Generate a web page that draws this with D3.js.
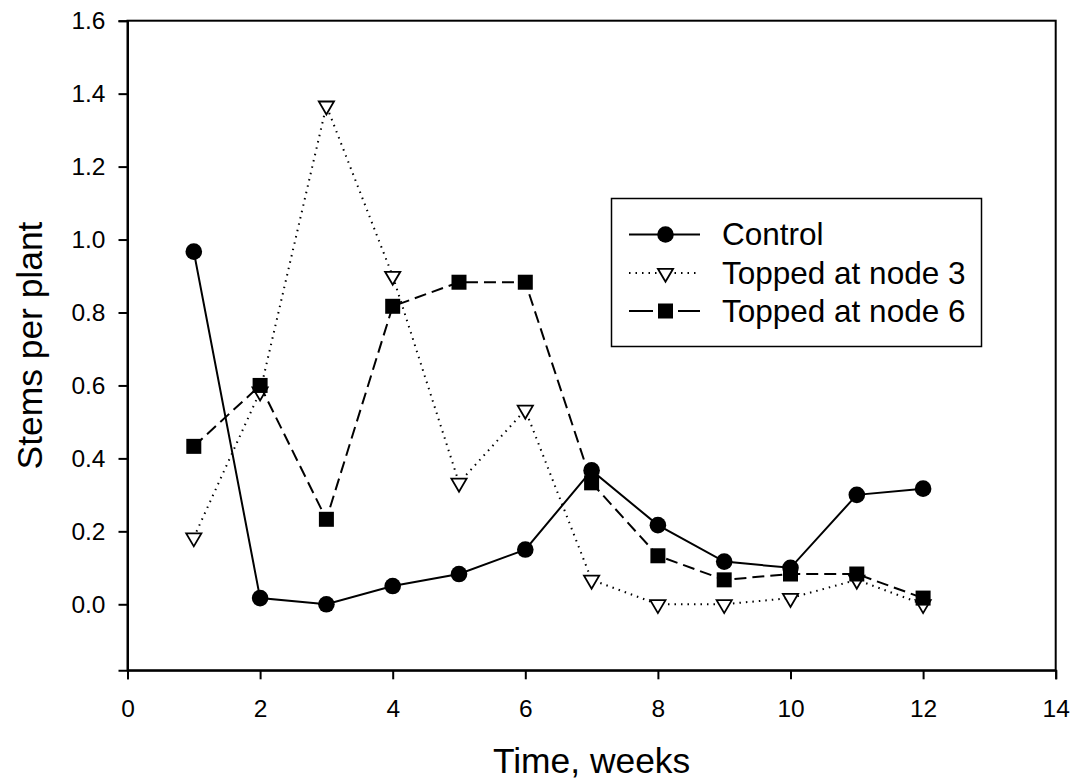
<!DOCTYPE html>
<html>
<head>
<meta charset="utf-8">
<script src="https://cdn.jsdelivr.net/npm/d3@7"></script>
<style>
  body { margin: 0; background: #fff; }
  svg { display: block; font-family: "Liberation Sans", Arial, sans-serif; }
</style>
</head>
<body>
<svg id="chart" width="1074" height="782"></svg>
<script>
// data
const weeks = [1, 2, 3, 4, 5, 6, 7, 8, 9, 10, 11, 12];
const control = [0.967, 0.017, 0.0, 0.05, 0.083, 0.15, 0.367, 0.217, 0.117, 0.1, 0.3, 0.317];
const node3 = [0.183, 0.583, 1.367, 0.9, 0.333, 0.533, 0.067, 0.0, 0.0, 0.017, 0.067, 0.0];
const node6 = [0.433, 0.6, 0.233, 0.817, 0.883, 0.883, 0.333, 0.133, 0.067, 0.083, 0.083, 0.017];
const seriesNames = ["Control", "Topped at node 3", "Topped at node 6"];
const xTicks = [0, 2, 4, 6, 8, 10, 12, 14];
const yTicks = [0.0, 0.2, 0.4, 0.6, 0.8, 1.0, 1.2, 1.4, 1.6];

const svg = d3.select("#chart");
const plotLeft = 127.5, plotRight = 1055.7, plotTop = 20.7, plotBottom = 670.3;

const x = d3.scaleLinear().domain([0, 14]).range([plotLeft, plotRight]);
const y = d3.scaleLinear().domain([-0.181, 1.6]).range([plotBottom, plotTop]);

// frame
svg.append("rect")
  .attr("x", plotLeft).attr("y", plotTop)
  .attr("width", plotRight - plotLeft).attr("height", plotBottom - plotTop)
  .attr("fill", "none").attr("stroke", "#000").attr("stroke-width", 2);

// axes
const xAxis = d3.axisBottom(x).tickValues(xTicks).tickSize(9).tickPadding(20).tickFormat(d3.format("d"));
const yAxis = d3.axisLeft(y).tickValues(yTicks).tickSize(9).tickPadding(13).tickFormat(d3.format(".1f"));

const xg = svg.append("g").attr("transform", `translate(0,${plotBottom})`).call(xAxis);
const yg = svg.append("g").attr("transform", `translate(${plotLeft},0)`).call(yAxis);

[xg, yg].forEach(g => {
  g.select(".domain").attr("stroke-width", 2);
  g.selectAll(".tick line").attr("stroke-width", 2);
  g.selectAll("text")
    .attr("font-size", 24.5)
    .attr("font-family", "Liberation Sans, Arial, sans-serif")
    .attr("fill", "#000");
});

// axis titles
svg.append("text")
  .attr("x", (plotLeft + plotRight) / 2).attr("y", 773)
  .attr("text-anchor", "middle")
  .attr("font-size", 35.4)
  .text("Time, weeks");

svg.append("text")
  .attr("transform", `translate(42,${(plotTop + plotBottom) / 2}) rotate(-90)`)
  .attr("text-anchor", "middle")
  .attr("font-size", 35.4)
  .text("Stems per plant");

const line = d3.line().x(d => x(d[0])).y(d => y(d[1]));
const zip = vals => weeks.map((w, i) => [w, vals[i]]);

const styles = [
  { dash: null, marker: "circle" },
  { dash: "1.5,5", marker: "triangle" },
  { dash: "12,6", marker: "square" }
];

const drawMarker = (g, kind, cx, cy) => {
  if (kind === "circle") {
    g.append("circle").attr("cx", cx).attr("cy", cy).attr("r", 8.3).attr("fill", "#000");
  } else if (kind === "square") {
    g.append("rect").attr("x", cx - 7.5).attr("y", cy - 7.5)
      .attr("width", 15).attr("height", 15).attr("fill", "#000");
  } else {
    g.append("path")
      .attr("d", `M${cx - 7.6},${cy - 4.2}L${cx + 7.6},${cy - 4.2}L${cx},${cy + 8.8}Z`)
      .attr("fill", "#fff").attr("stroke", "#000").attr("stroke-width", 1.8)
      .attr("stroke-linejoin", "miter");
  }
};

[control, node3, node6].forEach((vals, i) => {
  const g = svg.append("g");
  const pts = zip(vals);
  g.append("path")
    .attr("d", line(pts))
    .attr("fill", "none")
    .attr("stroke", "#000")
    .attr("stroke-width", 2)
    .attr("stroke-dasharray", styles[i].dash);
  pts.forEach(p => drawMarker(g, styles[i].marker, x(p[0]), y(p[1])));
});

// legend
const legend = svg.append("g");
legend.append("rect")
  .attr("x", 611.5).attr("y", 198.5)
  .attr("width", 370).attr("height", 148)
  .attr("fill", "#fff").attr("stroke", "#000").attr("stroke-width", 1.5);

const rowY = [234.5, 273, 311];
seriesNames.forEach((name, i) => {
  const ly = rowY[i];
  legend.append("line")
    .attr("x1", 629).attr("x2", 700).attr("y1", ly).attr("y2", ly)
    .attr("stroke", "#000").attr("stroke-width", 2)
    .attr("stroke-dasharray", i === 2 ? "24,25,22" : styles[i].dash);
  drawMarker(legend, styles[i].marker, 665.5, ly);
  legend.append("text")
    .attr("x", 722).attr("y", ly + 10.5)
    .attr("font-size", 31.5)
    .text(name);
});
</script>
</body>
</html>
